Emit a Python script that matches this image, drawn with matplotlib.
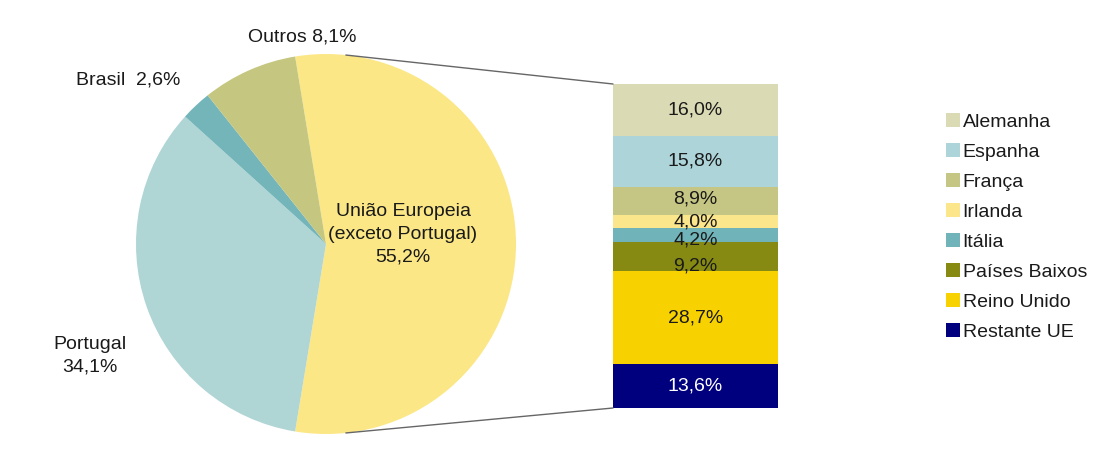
import matplotlib
matplotlib.use('Agg')
import matplotlib.pyplot as plt
from matplotlib.patches import ConnectionPatch, Patch
import numpy as np

plt.rcParams['font.family'] = ['Liberation Sans', 'DejaVu Sans']

# ---- data ----
pie_names = ['União Europeia\n(exceto Portugal)', 'Portugal', 'Brasil', 'Outros']
pie_values = [55.2, 34.1, 2.6, 8.1]
pie_colors = ['#FBE785', '#AFD5D5', '#74B5BA', '#C5C67F']

eu_names = ['Alemanha', 'Espanha', 'França', 'Irlanda', 'Itália',
            'Países Baixos', 'Reino Unido', 'Restante UE']
eu_values = [16.0, 15.8, 8.9, 4.0, 4.2, 9.2, 28.7, 13.6]
eu_colors = ['#DADAB4', '#ADD5D9', '#C5C584', '#FCE68C', '#70B3B9',
             '#878A12', '#F8D200', '#00007E']
eu_text_colors = ['#1a1a1a'] * 7 + ['white']
# label nudges in pixels (downwards), styling only
eu_label_nudge_px = [0, 0, -2, 0, 5, 9, 0, 0]


def fmt(v):
    return f"{v:.1f}".replace('.', ',') + '%'


W, H = 1093, 457
fig = plt.figure(figsize=(W / 100, H / 100), dpi=100)
fig.patch.set_facecolor('white')


def px_axes(x0, y0, x1, y1):
    return fig.add_axes([x0 / W, 1 - y1 / H, (x1 - x0) / W, (y1 - y0) / H])


def ftext(x, y, s, **kw):
    fig.text(x / W, 1 - y / H, s, **kw)


# ---- pie ----
axp = px_axes(136, 54, 516, 434)
start = 360 * pie_values[0] / 100 / 2
axp.pie(pie_values, colors=pie_colors, startangle=start, counterclock=False,
        radius=1, wedgeprops=dict(linewidth=0))
axp.set_aspect('auto')
axp.set_xlim(-1, 1)
axp.set_ylim(-1, 1)
axp.axis('off')

fs = 14
tc = '#1a1a1a'
ftext(403, 234, f"{pie_names[0]}\n{fmt(pie_values[0])}", ha='center', va='center',
      fontsize=fs, color=tc, linespacing=1.45)
ftext(90, 356, f"{pie_names[1]}\n{fmt(pie_values[1])}", ha='center', va='center',
      fontsize=fs, color=tc, linespacing=1.45)
ftext(128, 80, f"{pie_names[2]}  {fmt(pie_values[2])}", ha='center', va='center',
      fontsize=fs, color=tc)
ftext(302, 37, f"{pie_names[3]} {fmt(pie_values[3])}", ha='center', va='center',
      fontsize=fs, color=tc)

# ---- stacked bar ----
bx0, by0, bx1, by1 = 613, 84, 778, 408
axb = px_axes(bx0, by0, bx1, by1)
total = sum(eu_values)
unit_per_px = total / (by1 - by0)
top = total
for v, c, t, nd in zip(eu_values, eu_colors, eu_text_colors, eu_label_nudge_px):
    axb.bar(0.5, v, width=1, bottom=top - v, color=c, linewidth=0)
    axb.text(0.5, top - v / 2 - nd * unit_per_px, fmt(v), ha='center', va='center',
             fontsize=fs, color=t)
    top -= v
axb.set_xlim(0, 1)
axb.set_ylim(0, total)
axb.axis('off')

# ---- connection lines ----
ang = np.deg2rad(84)
for sgn, yb in [(1, total), (-1, 0)]:
    cp = ConnectionPatch(xyA=(np.cos(ang), sgn * np.sin(ang)), coordsA=axp.transData,
                         xyB=(0, yb), coordsB=axb.transData, color='#666666', lw=1.0)
    fig.add_artist(cp)

# ---- legend ----
handles = [Patch(facecolor=c, edgecolor='none', label=n) for n, c in zip(eu_names, eu_colors)]
fig.legend(handles=handles, loc='upper left', bbox_to_anchor=(946 / W, 1 - 113 / H),
           frameon=False, fontsize=fs, handlelength=0.7, handleheight=0.7,
           handletextpad=0.15, labelspacing=0.64, borderpad=0, borderaxespad=0,
           labelcolor=tc)

fig.savefig('out.png', dpi=100, facecolor='white')
